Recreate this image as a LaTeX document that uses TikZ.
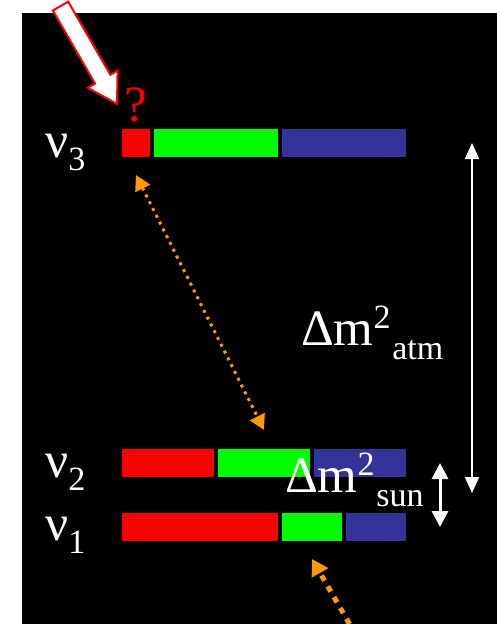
\documentclass[tikz,border=0pt]{standalone}
\usepackage{fontspec}
\setmainfont{Liberation Serif}
\usetikzlibrary{positioning,arrows.meta}
\definecolor{barred}{RGB}{255,0,0}
\definecolor{bargreen}{RGB}{0,255,0}
\definecolor{barblue}{RGB}{51,51,153}
\definecolor{dotorange}{RGB}{255,153,0}
\newcommand{\bigsz}{\fontsize{51}{51}\selectfont}
\newcommand{\smallsz}{\fontsize{34}{34}\selectfont}
\newcommand{\nulab}[1]{{\bigsz ν}\raisebox{-13pt}{\smallsz #1}}
\newcommand{\dmlab}[1]{{\bigsz Δm}\raisebox{17pt}{\smallsz 2}\,\raisebox{-14pt}{\smallsz #1}}
\tikzset{
  seg/.style={minimum height=28pt, inner sep=0pt, outer sep=0pt, anchor=north west},
  lab/.style={text=white, inner sep=0pt, anchor=base west},
  dimarrow/.style={{Triangle[length=16pt,width=14pt]}-{Triangle[length=16pt,width=14pt]},
    draw=white, line width=2pt},
  dimarrow2/.style={{Triangle[length=16pt,width=16pt]}-{Triangle[length=16pt,width=16pt]},
    draw=white, line width=3pt},
  dotarrow/.style={{Triangle[length=15pt,width=16pt]}-{Triangle[length=15pt,width=16pt]},
    draw=dotorange, line width=3pt, dash pattern=on 3pt off 4.6pt},
  dotarrow2/.style={-{Triangle[length=16pt,width=18pt]},
    draw=dotorange, line width=5pt, dash pattern=on 6pt off 6.5pt},
}
\begin{document}
\begin{tikzpicture}[x=1pt, y=-1pt]
  \useasboundingbox (0,0) rectangle (497,624);
  \fill[black] (22,13) rectangle (497,624);
  % level bars
  \node[seg, fill=barred, minimum width=28pt] (n3r) at (122,129) {};
  \node[seg, fill=bargreen, minimum width=124pt, right=4pt of n3r] (n3g) {};
  \node[seg, fill=barblue, minimum width=124pt, right=4pt of n3g] (n3b) {};
  \node[seg, fill=barred, minimum width=92pt] (n2r) at (122,449) {};
  \node[seg, fill=bargreen, minimum width=92pt, right=4pt of n2r] (n2g) {};
  \node[seg, fill=barblue, minimum width=92pt, right=4pt of n2g] (n2b) {};
  \node[seg, fill=barred, minimum width=156pt] (n1r) at (122,513) {};
  \node[seg, fill=bargreen, minimum width=60pt, right=4pt of n1r] (n1g) {};
  \node[seg, fill=barblue, minimum width=60pt, right=4pt of n1g] (n1b) {};
  % labels
  \node[lab] (l3) at (45,157) {\nulab{3}};
  \node[lab] (l2) at (45,477) {\nulab{2}};
  \node[lab] (l1) at (45,540) {\nulab{1}};
  \node[lab] (atm) at (301,345) {\dmlab{atm}};
  \node[lab] (sun) at (285,492) {\dmlab{sun}};
  \node[text=barred, inner sep=0pt, anchor=base] (qm) at (136,121) {\bigsz ?};
  % big white arrow
  \filldraw[fill=white, draw=barred, line width=2pt, line join=miter]
    (52.8,10.5) -- (95.0,83.6) -- (87.7,87.8) -- (117,104) -- (117.6,70.5)
    -- (110.3,74.7) -- (68.2,1.7) -- cycle;
  % mass splittings
  \coordinate (atmtop) at (472,143);
  \coordinate (atmbot) at (472,493);
  \coordinate (suntop) at (440,463);
  \coordinate (sunbot) at (440,527);
  \draw[dimarrow] (atmtop) -- (atmbot);
  \draw[dimarrow2] (suntop) -- (sunbot);
  % mixing arrows
  \coordinate (foot) at (349.5,624);
  \draw[dotarrow] ([yshift=-18pt]n3r.south) -- ([yshift=19pt]n2g.north);
  \draw[dotarrow2] (foot) -- ([yshift=-18pt]n1g.south);
\end{tikzpicture}
\end{document}
